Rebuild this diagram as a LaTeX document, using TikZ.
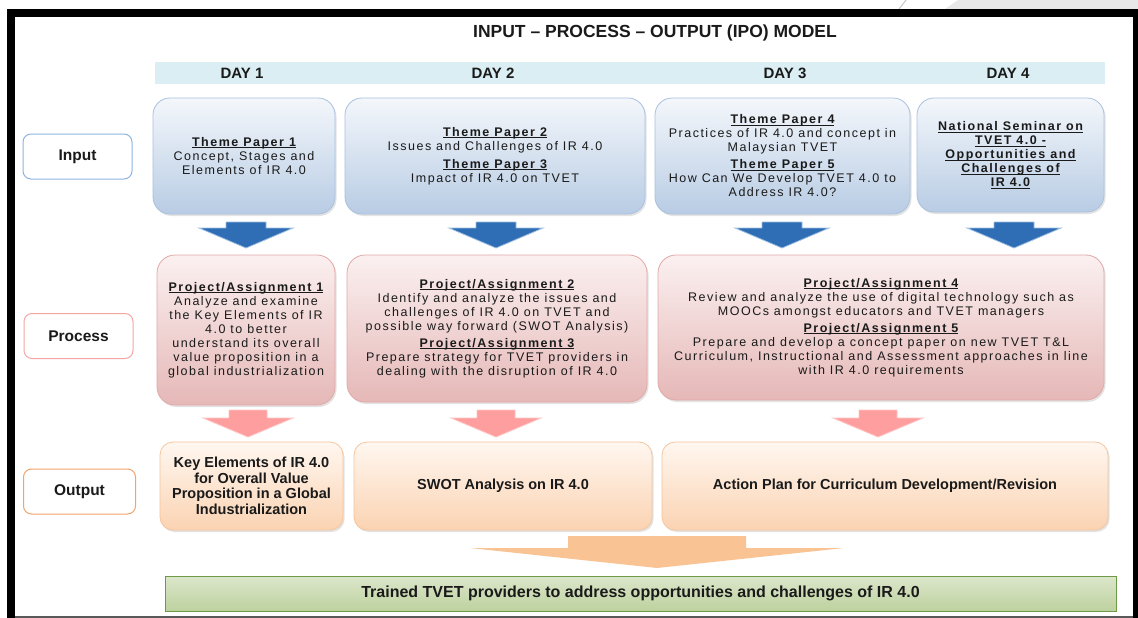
\documentclass[tikz,border=0pt]{standalone}
\usepackage{fontspec}
\setmainfont{Liberation Sans}
\newfontfamily\bodyf[LetterSpace=12]{Liberation Sans}
\usetikzlibrary{shadows}
\newsavebox\ulbox
\newcommand\hd[1]{\sbox\ulbox{\bfseries #1}\rlap{\rule[-1.7pt]{\wd\ulbox}{0.8pt}}\usebox\ulbox}
\definecolor{daybar}{HTML}{DAEEF3}
\definecolor{intop}{HTML}{F4F7FB}
\definecolor{inbot}{HTML}{B8CCE4}
\definecolor{inborder}{HTML}{A9C1DF}
\definecolor{ptop}{HTML}{FBF0F0}
\definecolor{pbot}{HTML}{E5B8B7}
\definecolor{pborder}{HTML}{E2A9A8}
\definecolor{otop}{HTML}{FFF7F0}
\definecolor{obot}{HTML}{FBD3B2}
\definecolor{oborder}{HTML}{F6C59D}
\definecolor{bluearr}{HTML}{2F6EB5}
\definecolor{bluearredge}{HTML}{9DBDE2}
\definecolor{pinkarr}{HTML}{FF9E9E}
\definecolor{pinkarredge}{HTML}{FFC4C4}
\definecolor{orarr}{HTML}{FAC394}
\definecolor{gtop}{HTML}{DCE7CB}
\definecolor{gbot}{HTML}{BDD19E}
\definecolor{gborder}{HTML}{6F9A45}
\definecolor{inlab}{HTML}{8DB4E2}
\definecolor{plab}{HTML}{F4A6A4}
\definecolor{olab}{HTML}{F2A46B}
\definecolor{txt}{HTML}{1A1A1A}
\tikzset{
  shad/.style={drop shadow={shadow xshift=1.5pt,shadow yshift=-2pt,opacity=0.22}},
  bodytext/.style={align=center,text=txt,font=\bodyf\fontsize{12.5}{14}\selectfont},
  inbox/.style={shad,rounded corners=17pt,draw=inborder,line width=0.8pt,top color=intop,bottom color=inbot,inner sep=0pt,bodytext},
  procbox/.style={shad,rounded corners=18pt,draw=pborder,line width=0.8pt,top color=ptop,bottom color=pbot,inner sep=0pt,bodytext},
  outbox/.style={shad,rounded corners=13pt,draw=oborder,line width=0.8pt,top color=otop,bottom color=obot,inner sep=0pt,align=center,text=txt,font=\bfseries\fontsize{14.5}{15.5}\selectfont},
  rowlabel/.style={rounded corners=8pt,fill=white,line width=1pt,minimum width=109pt,minimum height=45pt,inner sep=0pt,text=txt,font=\bfseries\fontsize{15.5}{18}\selectfont},
  daylabel/.style={text=txt,font=\bfseries\fontsize{15}{18}\selectfont},
  bluedown/.pic={\path[pic actions] (-20,0) -- (20,0) -- (20,6) -- (47,6) -- (0,26) -- (-47,6) -- (-20,6) -- cycle;},
  pinkdown/.pic={\path[pic actions] (-19,0) -- (19,0) -- (19,8) -- (45,8) -- (0,27) -- (-45,8) -- (-19,8) -- cycle;},
  bigdown/.pic={\path[pic actions] (-89,0) -- (89,0) -- (89,12) -- (187,12) -- (0,32) -- (-187,12) -- (-89,12) -- cycle;},
}
\begin{document}
\begin{tikzpicture}[x=1pt,y=-1pt]
\useasboundingbox (0,0) rectangle (1138,618);
% frame
\fill[white] (0,0) rectangle (1138,618);
\fill[gray!18] (945,9) -- (958,0) -- (1138,0) -- (1138,9) -- cycle;
\draw[gray!45,line width=1pt] (899,9) -- (906,0);
\fill[black] (7,9) rectangle (1138,17);
\fill[black] (7,9) rectangle (15,618);
\fill[black] (1133,9) rectangle (1138,618);
\fill[black!65] (15,615.5) rectangle (1133,618);

% title and days
\node[text=txt,font=\bfseries\fontsize{17.5}{20}\selectfont] (title) at (655,33) {INPUT – PROCESS – OUTPUT (IPO) MODEL};
\node[fill=daybar,minimum width=950pt,minimum height=22pt,inner sep=0pt] (daybar) at (630,73) {};
\node[daylabel] (d1) at (242,73) {DAY 1};
\node[daylabel] (d2) at (493,73) {DAY 2};
\node[daylabel] (d3) at (785,73) {DAY 3};
\node[daylabel] (d4) at (1008,73) {DAY 4};

% row labels
\node[rowlabel,draw=inlab] (linput) at (77.5,156.5) {Input};
\node[rowlabel,draw=plab] (lproc) at (78.5,336) {Process};
\node[rowlabel,draw=olab,minimum width=112pt] (lout) at (79.5,491.5) {Output};

% input boxes
\node[inbox,minimum width=182pt,minimum height=116pt] (in1) at (244,156)
  {\hd{Theme Paper 1}\\Concept, Stages and\\Elements of IR 4.0};
\node[inbox,minimum width=300pt,minimum height=116pt] (in2) at (495,156)
  {\hd{Theme Paper 2}\\Issues and Challenges of IR 4.0\\[4pt]\hd{Theme Paper 3}\\Impact of IR 4.0 on TVET};
\node[inbox,minimum width=255pt,minimum height=116pt] (in3) at (782.5,156)
  {\hd{Theme Paper 4}\\Practices of IR 4.0 and concept in\\Malaysian TVET\\[3pt]\hd{Theme Paper 5}\\How Can We Develop TVET 4.0 to\\Address IR 4.0?};
\node[inbox,minimum width=187pt,minimum height=114pt] (in4) at (1010.5,155)
  {\hd{National Seminar on}\\\hd{TVET 4.0 -}\\\hd{Opportunities and}\\\hd{Challenges of}\\\hd{IR 4.0}};

% blue arrows
\pic[fill=bluearr,draw=bluearredge,line width=0.8pt] (ba1) at (246,222) {bluedown};
\pic[fill=bluearr,draw=bluearredge,line width=0.8pt] (ba2) at (496,222) {bluedown};
\pic[fill=bluearr,draw=bluearredge,line width=0.8pt] (ba3) at (782,222) {bluedown};
\pic[fill=bluearr,draw=bluearredge,line width=0.8pt] (ba4) at (1014,222) {bluedown};

% process boxes
\node[procbox,minimum width=178pt,minimum height=150pt] (p1) at (246,330)
  {\hd{Project/Assignment 1}\\Analyze and examine\\the Key Elements of IR\\4.0 to better\\understand its overall\\value proposition in a\\global industrialization};
\node[procbox,minimum width=300pt,minimum height=147pt] (p2) at (497,328.5)
  {\hd{Project/Assignment 2}\\Identify and analyze the issues and\\challenges of IR 4.0 on TVET and\\possible way forward (SWOT Analysis)\\[3pt]\hd{Project/Assignment 3}\\Prepare strategy for TVET providers in\\dealing with the disruption of IR 4.0};
\node[procbox,minimum width=446pt,minimum height=145pt] (p3) at (881,327.5)
  {\hd{Project/Assignment 4}\\Review and analyze the use of digital technology such as\\MOOCs amongst educators and TVET managers\\[3pt]\hd{Project/Assignment 5}\\Prepare and develop a concept paper on new TVET T\&L\\Curriculum, Instructional and Assessment approaches in line\\with IR 4.0 requirements};

% pink arrows
\pic[fill=pinkarr,draw=pinkarredge,line width=0.8pt] (pa1) at (248,410) {pinkdown};
\pic[fill=pinkarr,draw=pinkarredge,line width=0.8pt] (pa2) at (496,410) {pinkdown};
\pic[fill=pinkarr,draw=pinkarredge,line width=0.8pt] (pa3) at (878,410) {pinkdown};

% output boxes
\node[outbox,minimum width=183pt,minimum height=88pt] (o1) at (251.5,486)
  {Key Elements of IR 4.0\\for Overall Value\\Proposition in a Global\\Industrialization};
\node[outbox,minimum width=298pt,minimum height=88pt] (o2) at (503,486) {SWOT Analysis on IR 4.0};
\node[outbox,minimum width=446pt,minimum height=88pt] (o3) at (885,486) {Action Plan for Curriculum Development/Revision};

% big arrow
\pic[fill=orarr] (bigarr) at (657,536) {bigdown};

% final bar
\node[top color=gtop,bottom color=gbot,draw=gborder,line width=0.8pt,minimum width=951pt,minimum height=35pt,inner sep=0pt,text=txt,font=\bfseries\fontsize{16}{18}\selectfont] (final) at (640.5,593.5)
  {Trained TVET providers to address opportunities and challenges of IR 4.0};
\end{tikzpicture}
\end{document}
